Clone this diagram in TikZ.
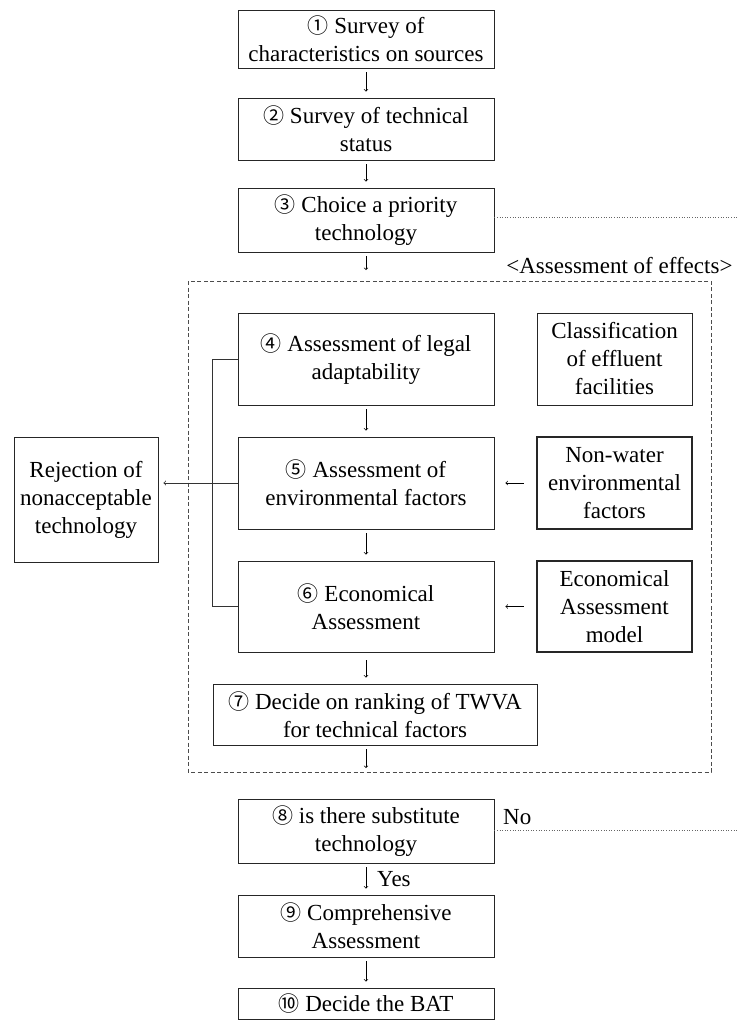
\documentclass[tikz,border=0pt]{standalone}
\usepackage{fontspec}
\setmainfont{Liberation Serif}
\newfontfamily\circfont{Noto Sans CJK KR}
\usetikzlibrary{positioning}

\newcommand{\cnum}[1]{{\circfont\fontsize{21}{21}\selectfont #1}}

\begin{document}
\begin{tikzpicture}[x=1pt, y=-1pt, >=to,
    every node/.append style={font=\fontsize{23}{28}\selectfont},
    box/.style={draw=black!85, line width=0.9pt, align=center, inner sep=0pt,
      minimum width=256pt},
    sidebox/.style={box, minimum width=155pt, minimum height=92pt},
    heavybox/.style={sidebox, line width=2.2pt},
    arr/.style={->, line width=0.7pt, shorten <=4pt, shorten >=6pt},
    sidearr/.style={->, line width=0.7pt, shorten <=12pt, shorten >=11pt},
    link/.style={line width=0.8pt, draw=black!80},
    dotline/.style={dotted, line width=0.6pt, draw=black!60}]
    \useasboundingbox (0,0) rectangle (738,1020);
    % main column
    \node(b1)[box, minimum height=58pt] at (366,39) {\cnum{①} Survey of\\characteristics on sources};
    \node(b2)[box, minimum height=62pt] at (366,129) {\cnum{②} Survey of technical\\status};
    \node(b3)[box, minimum height=64pt] at (366,220) {\cnum{③} Choice a priority\\technology};
    \coordinate (in4) at (366,276);
    \coordinate (r3) at (738,217);
    % assessment of effects
    \draw[dashed, line width=0.7pt, draw=black!70, dash pattern=on 4pt off 2.5pt]
      (188,281) rectangle (711,772);
    \node(effects)[anchor=east] at (736,266) {\textless Assessment of effects\textgreater};
    \node(b4)[box, minimum height=92pt] at (366,359) {\cnum{④} Assessment of legal\\adaptability};
    \node(b5)[box, minimum height=92pt] at (366,483) {\cnum{⑤} Assessment of\\environmental factors};
    \node(b6)[box, minimum height=91pt] at (366,606.5) {\cnum{⑥} Economical\\Assessment};
    \node(b7)[box, minimum width=324pt, minimum height=61pt] at (375,714.5) {\cnum{⑦} Decide on ranking of TWVA\\for technical factors};
    \coordinate (out7) at (366,768);
    \node(classif)[sidebox] at (614.5,359) {Classification\\of effluent\\facilities};
    \node(nonwater)[heavybox] at (614.5,483) {Non-water\\environmental\\factors};
    \node(ecomodel)[heavybox, minimum height=91pt] at (614.5,606.5) {Economical\\Assessment\\model};
    \node(reject)[box, minimum width=144pt, minimum height=125pt] at (86,499.5) {Rejection of\\nonacceptable\\technology};
    % after assessment
    \node(b8)[box, minimum height=64pt] at (366,831) {\cnum{⑧} is there substitute\\technology};
    \node(b9)[box, minimum height=62pt] at (366,926) {\cnum{⑨} Comprehensive\\Assessment};
    \node(b10)[box, minimum height=31pt] at (366,1003.5) {\cnum{⑩} Decide the BAT};
    \coordinate (r8) at (738,830);
    \node(no)[anchor=west, inner sep=0pt] at (503,817) {No};
    \node(yes)[anchor=west, inner sep=0pt] at (377,879) {Yes};

    \draw[arr] (b1) -- (b2);
    \draw[arr] (b2) -- (b3);
    \draw[arr] (b3) -- (in4);
    \draw[dotline] (b3.east |- r3) -- (r3);
    \draw[arr] (b4) -- (b5);
    \draw[arr] (b5) -- (b6);
    \draw[arr, shorten <=8pt] (b6.south) -- (b6.south |- b7.north);
    \draw[arr, shorten >=0pt] (b7.south -| out7) -- (out7);
    \draw[sidearr] (nonwater.west) -- (b5.east);
    \draw[sidearr] (ecomodel.west) -- (b6.east);
    \draw[link] (b4.west) -- ++(-25,0) |- (b6.west);
    \draw[link, ->, shorten >=5pt] (b5.west) -- (b5.west -| reject.east);
    \draw[arr] (b8) -- (b9);
    \draw[arr] (b9) -- (b10);
    \draw[dotline] (b8.east |- r8) -- (r8);
\end{tikzpicture}
\end{document}
